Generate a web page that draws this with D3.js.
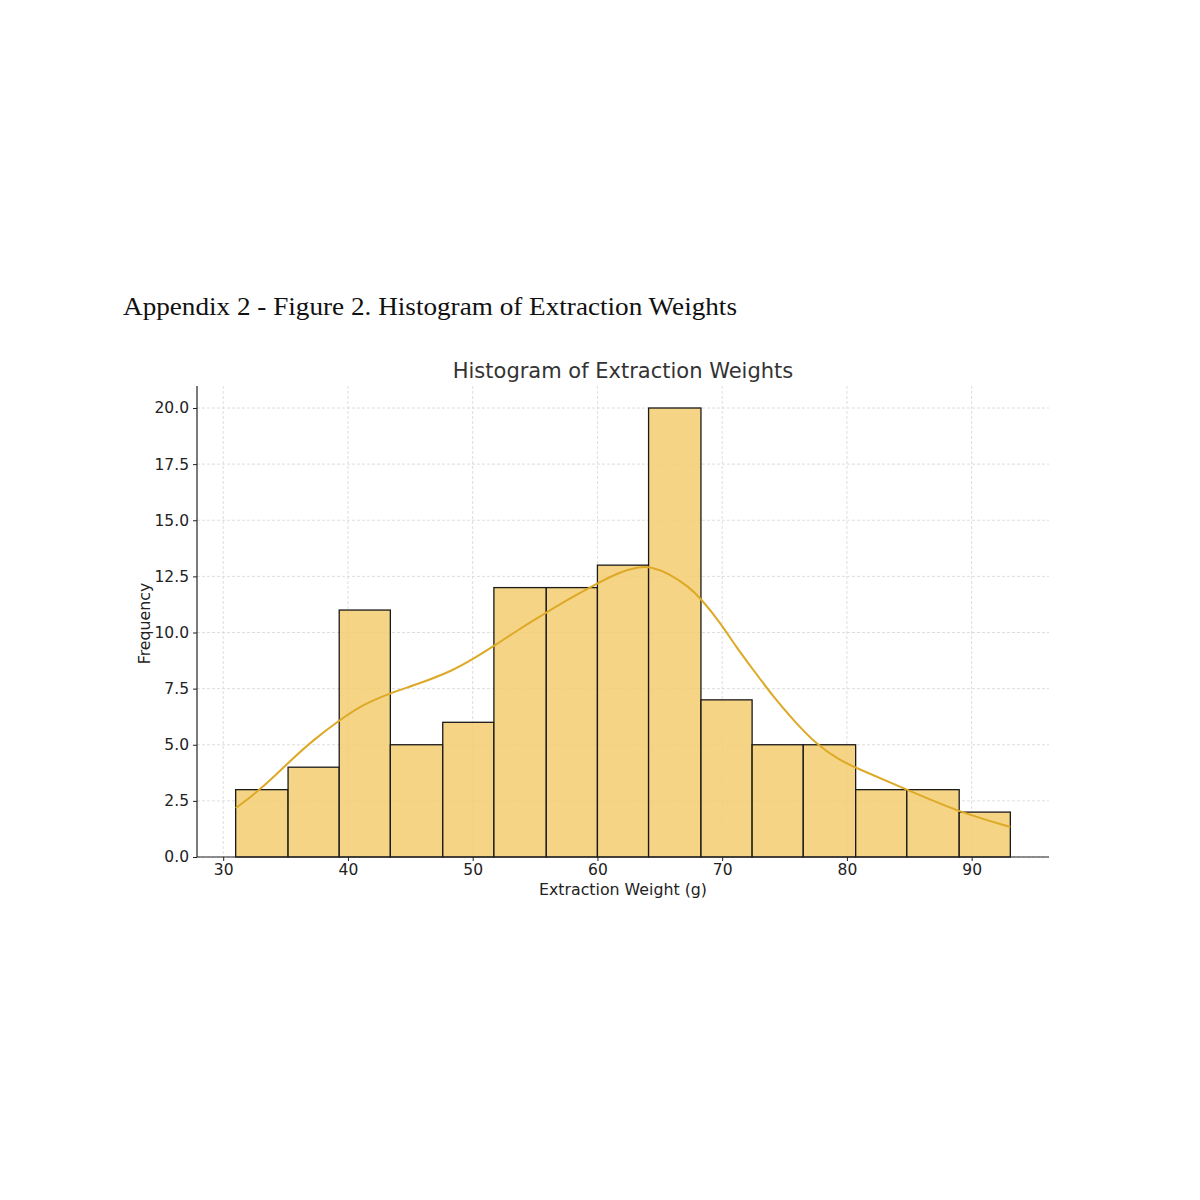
<!DOCTYPE html>
<html>
<head>
<meta charset="utf-8">
<script src="https://cdn.jsdelivr.net/npm/d3@7"></script>
<style>
  body { margin: 0; background: #fff; }
  svg { display: block; }
</style>
</head>
<body>
<div id="chart"></div>
<script>
'use strict';

// histogram bins (edges in g) and counts
var binEdges = [31.0, 35.2, 39.3, 43.4, 47.6, 51.7, 55.9, 60.0, 64.1, 68.3, 72.4, 76.5, 80.7, 84.8, 89.0, 93.1];
var binCounts = [3, 4, 11, 5, 6, 12, 12, 13, 20, 7, 5, 5, 3, 3, 2];

// kde curve
var kdeX = [31.0, 33.0, 35.4, 37.2, 39.1, 41.2, 43.4, 45.8, 48.4, 50.1, 51.7, 53.8, 55.8, 57.8, 59.9, 61.8, 63.4, 64.2, 65.8, 67.4, 68.3, 69.8, 71.1, 72.5, 74.1, 75.7, 77.6, 79.4, 80.6, 84.8, 89.0, 93.1];
var kdeY = [2.18, 3.0, 4.3, 5.2, 6.0, 6.8, 7.3, 7.74, 8.3, 8.84, 9.4, 10.17, 10.85, 11.52, 12.16, 12.7, 12.93, 12.94, 12.62, 12.0, 11.5, 10.48, 9.37, 8.33, 7.14, 6.1, 4.99, 4.32, 4.0, 3.0, 2.0, 1.34];

var xTicks = [30, 40, 50, 60, 70, 80, 90];
var yTicks = [0, 2.5, 5, 7.5, 10, 12.5, 15, 17.5, 20];

var width = 1200,
    height = 1200,
    plot = { left: 197, right: 1049, top: 386, bottom: 857 };

var svg = d3.select('#chart').append('svg')
    .attr('width', width)
    .attr('height', height);

var x = d3.scaleLinear().domain([27.9, 96.2]).range([plot.left, plot.right]);
var y = d3.scaleLinear().domain([0, 20.98]).range([plot.bottom, plot.top]);

// figure caption
svg.append('text')
    .attr('x', 123)
    .attr('y', 315)
    .attr('font-family', 'Liberation Serif, DejaVu Serif, serif')
    .attr('font-size', 26)
    .attr('fill', '#111')
    .attr('textLength', 614)
    .attr('lengthAdjust', 'spacingAndGlyphs')
    .text('Appendix 2 - Figure 2. Histogram of Extraction Weights');

// chart title
svg.append('text')
    .attr('x', 623)
    .attr('y', 378)
    .attr('text-anchor', 'middle')
    .attr('font-family', 'DejaVu Sans, sans-serif')
    .attr('font-size', 21)
    .attr('fill', '#333')
    .text('Histogram of Extraction Weights');

// gridlines
var grid = svg.append('g').attr('class', 'grid');
grid.selectAll('line.gy')
    .data(yTicks)
    .enter().append('line')
    .attr('class', 'gy')
    .attr('x1', plot.left)
    .attr('x2', plot.right)
    .attr('y1', d => y(d))
    .attr('y2', d => y(d))
    .attr('stroke', '#d6d6d6')
    .attr('stroke-width', 0.8)
    .attr('stroke-dasharray', '3,2');
grid.selectAll('line.gx')
    .data(xTicks)
    .enter().append('line')
    .attr('class', 'gx')
    .attr('x1', d => x(d))
    .attr('x2', d => x(d))
    .attr('y1', plot.top)
    .attr('y2', plot.bottom)
    .attr('stroke', '#d6d6d6')
    .attr('stroke-width', 0.8)
    .attr('stroke-dasharray', '3,2');

// bars
svg.append('g').attr('class', 'bars')
    .selectAll('rect')
    .data(binCounts)
    .enter().append('rect')
    .attr('x', (d, i) => x(binEdges[i]))
    .attr('y', d => y(d))
    .attr('width', (d, i) => x(binEdges[i + 1]) - x(binEdges[i]))
    .attr('height', d => y(0) - y(d))
    .attr('fill', 'rgb(243, 204, 112)')
    .attr('fill-opacity', 0.85)
    .attr('stroke', '#1a1a1a')
    .attr('stroke-width', 1.3);

// kde line
var kdeData = kdeX.map((v, i) => [v, kdeY[i]]);
svg.append('path')
    .datum(kdeData)
    .attr('d', d3.line()
        .x(d => x(d[0]))
        .y(d => y(d[1]))
        .curve(d3.curveBasis))
    .attr('fill', 'none')
    .attr('stroke', '#DDA926')
    .attr('stroke-width', 2);

// axes
var xAxis = svg.append('g')
    .attr('transform', 'translate(0,' + plot.bottom + ')')
    .call(d3.axisBottom(x).tickValues(xTicks).tickSize(4).tickPadding(3).tickFormat(d3.format('d')));
var yAxis = svg.append('g')
    .attr('transform', 'translate(' + plot.left + ',0)')
    .call(d3.axisLeft(y).tickValues(yTicks).tickSize(4).tickPadding(4).tickFormat(d3.format('.1f')));

[xAxis, yAxis].forEach(function (ax) {
    ax.select('.domain').attr('stroke', '#222').attr('stroke-width', 1.2);
    ax.selectAll('.tick line').attr('stroke', '#222');
    ax.selectAll('.tick text')
        .attr('font-family', 'DejaVu Sans, sans-serif')
        .attr('font-size', 15.5)
        .attr('fill', '#222');
});
// extend axis lines to the full plot area without end ticks
xAxis.select('.domain').attr('d', 'M' + plot.left + ',0H' + plot.right);
yAxis.select('.domain').attr('d', 'M0,' + plot.top + 'V' + plot.bottom);

// axis labels
svg.append('text')
    .attr('x', 623)
    .attr('y', 895)
    .attr('text-anchor', 'middle')
    .attr('font-family', 'DejaVu Sans, sans-serif')
    .attr('font-size', 15.8)
    .attr('fill', '#222')
    .text('Extraction Weight (g)');

svg.append('text')
    .attr('transform', 'translate(150,' + ((plot.top + plot.bottom) / 2 + 2) + ') rotate(-90)')
    .attr('text-anchor', 'middle')
    .attr('font-family', 'DejaVu Sans, sans-serif')
    .attr('font-size', 15.8)
    .attr('fill', '#222')
    .text('Frequency');
</script>
</body>
</html>
